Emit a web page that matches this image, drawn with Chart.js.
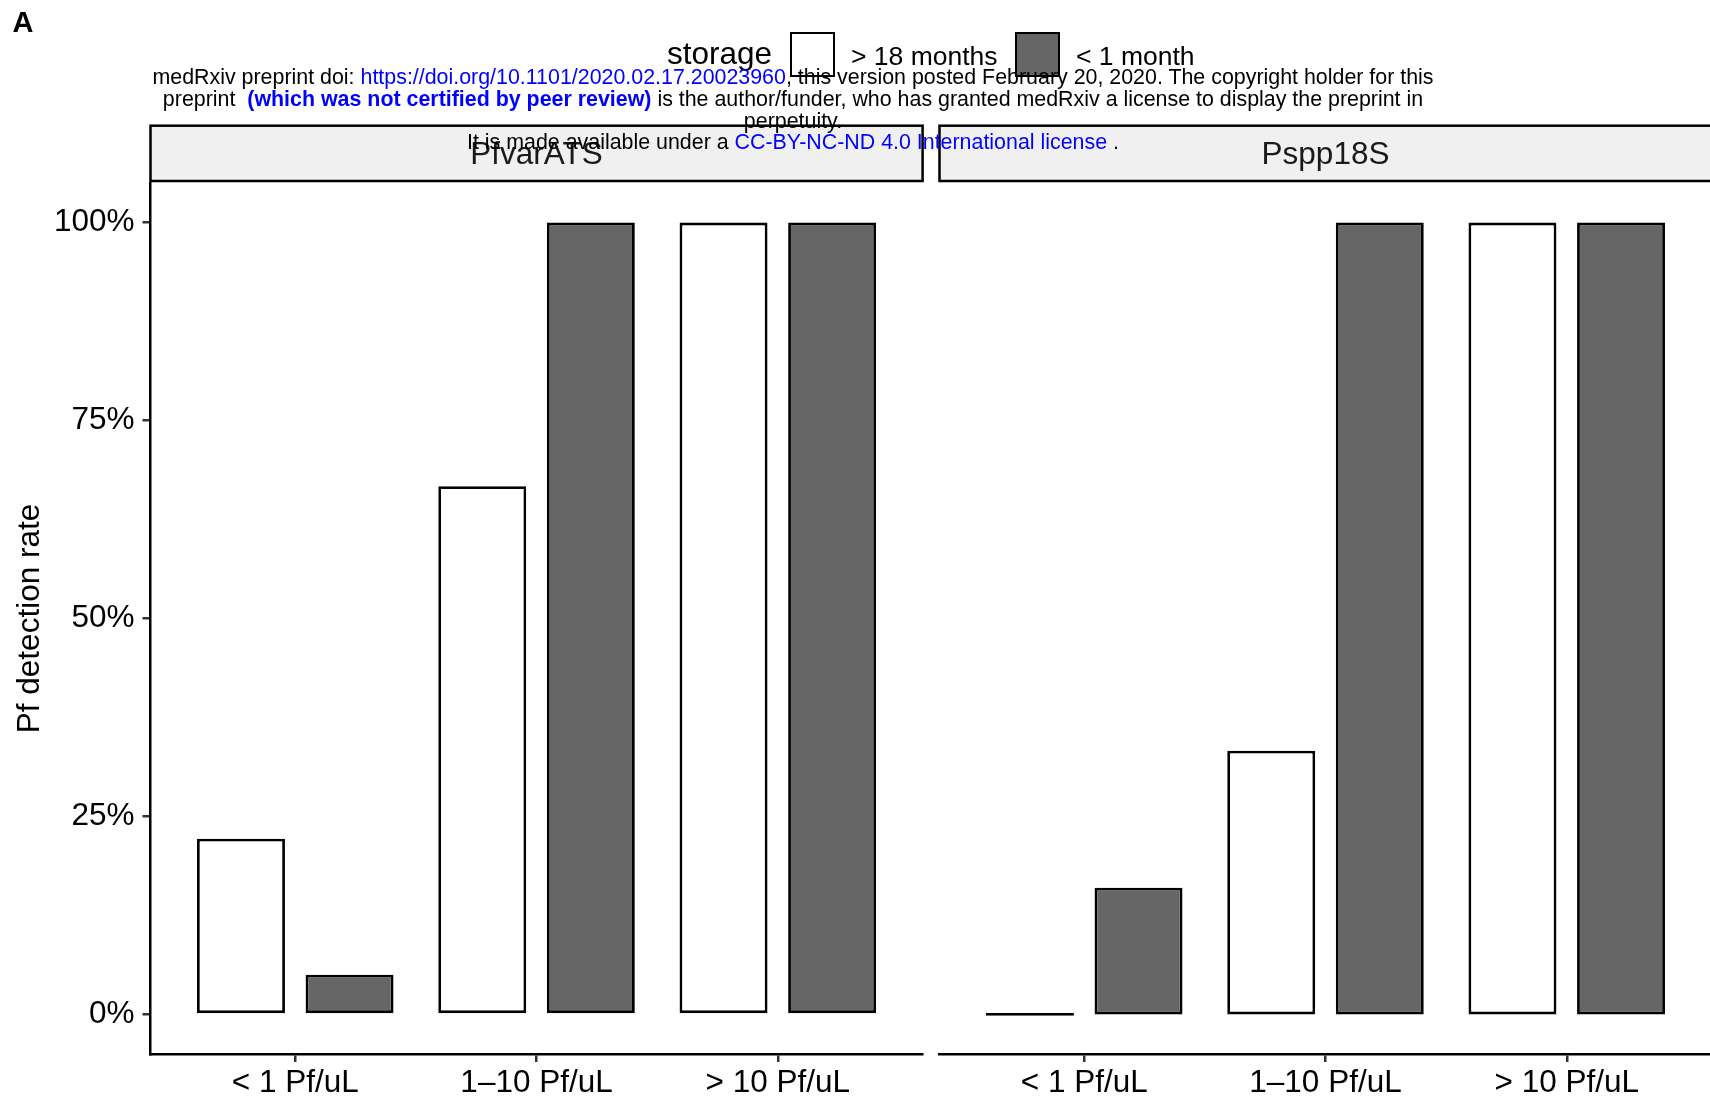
<!DOCTYPE html>
<html>
<head>
<meta charset="utf-8">
<script src="https://cdn.jsdelivr.net/npm/chart.js@4.4.1/dist/chart.umd.min.js"></script>
<style>
  html, body { margin: 0; padding: 0; width: 1710px; height: 1102px; overflow: hidden; background: #fff; }
  body { position: relative; font-family: "Liberation Sans", Arial, Helvetica, sans-serif; }
  canvas { position: absolute; top: 0; }
  #panel1 { left: 0; }
  #panel2 { left: 930px; }
  .txt { position: absolute; white-space: pre; line-height: 1; color: #000; }
  .key { position: absolute; box-sizing: border-box; border: 2.5px solid #000; }
  .wm { position: absolute; white-space: pre; line-height: 1; font-size: 21.3px; color: #000; transform: translateX(-50%); z-index: 5; }
  .blue { color: #0000ff; }
  .bold { font-weight: bold; }
</style>
</head>
<body>
<canvas id="panel1" width="930" height="1102"></canvas>
<canvas id="panel2" width="790" height="1102"></canvas>
<div id="overlay"></div>
<script>
const categories = ['< 1 Pf/uL', '1–10 Pf/uL', '> 10 Pf/uL'];
const storageGroups = ['> 18 months', '< 1 month'];
const storageFills = ['#ffffff', '#666666'];
const panelNames = ['PfvarATS', 'Pspp18S'];
const pfvarLong = [22.2, 66.7, 100];
const pfvarShort = [5, 100, 100];
const psppLong = [0, 33.3, 100];
const psppShort = [16, 100, 100];
const yTicks = [0, 25, 50, 75, 100];

const FONT = '"Liberation Sans", Arial, Helvetica, sans-serif';

// facet strip drawn above the chart area
const stripPlugin = {
  id: 'strip',
  afterDraw(chart, args, opts) {
    const { ctx, chartArea } = chart;
    const bottom = chartArea.top - 2;
    const top = 125.7;
    const h = bottom - top;
    ctx.save();
    ctx.fillStyle = '#f0f0f0';
    ctx.fillRect(chartArea.left, top, chartArea.right - chartArea.left, h);
    ctx.strokeStyle = '#000';
    ctx.lineWidth = 2.5;
    ctx.strokeRect(chartArea.left, top, chartArea.right - chartArea.left, h);
    ctx.fillStyle = '#1a1a1a';
    ctx.font = '31.5px ' + FONT;
    ctx.textAlign = 'center';
    ctx.textBaseline = 'middle';
    ctx.fillText(opts.text, (chartArea.left + chartArea.right) / 2, top + h / 2 + 2);
    ctx.restore();
  }
};

function makePanel(id, name, longVals, shortVals, showY, padLeft, padRight) {
  const vals = [longVals, shortVals];
  return new Chart(document.getElementById(id), {
    type: 'bar',
    data: {
      labels: categories,
      datasets: storageGroups.map((g, i) => ({
        label: g,
        data: vals[i],
        backgroundColor: storageFills[i],
        borderColor: '#000',
        borderWidth: 2.8,
        borderSkipped: false,
        minBarLength: 2.8,
        barPercentage: 0.81,
        categoryPercentage: 0.9
      }))
    },
    options: {
      responsive: false,
      animation: false,
      layout: { padding: { top: 183, left: padLeft, right: padRight, bottom: 0 } },
      scales: {
        x: {
          type: 'category',
          offset: true,
          // ggplot style discrete expansion: 0.6 of a step on each side
          afterBuildTicks: s => { s._startValue = -0.6; s._valueRange = categories.length + 0.2; },
          afterFit: s => { s.height = 48; },
          grid: { offset: false, drawOnChartArea: false, tickLength: 8, color: '#333', lineWidth: 2.5 },
          border: { color: '#000', width: 2.5 },
          ticks: { color: '#000', font: { family: FONT, size: 31.5 }, padding: 2, maxRotation: 0, autoSkip: false }
        },
        y: {
          display: showY,
          min: -5,
          max: 105,
          afterBuildTicks: s => { s.ticks = yTicks.map(v => ({ value: v })); },
          afterFit: s => { s.width = showY ? 150.5 : 0; },
          grid: { drawOnChartArea: false, tickLength: 8, color: '#333', lineWidth: 2.5 },
          border: { color: '#000', width: 2.5 },
          ticks: { color: '#000', font: { family: FONT, size: 31.5 }, padding: 8, autoSkip: false, callback: v => v + '%' },
          title: { display: true, text: 'Pf detection rate', color: '#000', font: { family: FONT, size: 31.5 }, padding: { top: 11, bottom: 0 } }
        }
      },
      plugins: {
        legend: { display: false },
        tooltip: { enabled: false },
        strip: { text: name }
      }
    },
    plugins: [stripPlugin]
  });
}

makePanel('panel1', panelNames[0], pfvarLong, pfvarShort, true, 0, 7.4);
makePanel('panel2', panelNames[1], psppLong, psppShort, false, 9.5, 8.5);

// text placed by baseline (line-height 1, Liberation Sans metrics)
const overlay = document.getElementById('overlay');
function addText(html, left, baseline, size, cls, extra) {
  const d = document.createElement('div');
  d.className = cls || 'txt';
  d.innerHTML = html;
  d.style.left = left + 'px';
  d.style.top = (baseline - 0.8465 * size) + 'px';
  d.style.fontSize = size + 'px';
  if (extra) Object.assign(d.style, extra);
  overlay.appendChild(d);
  return d;
}

addText('A', 12.5, 33, 29, 'txt', { fontWeight: 'bold' });

// legend
addText('storage', 667, 65, 31.5);
const keyLeft = [790, 1015];
const labelLeft = [851, 1076];
storageGroups.forEach((g, i) => {
  const k = document.createElement('div');
  k.className = 'key';
  Object.assign(k.style, { left: keyLeft[i] + 'px', top: '32px', width: '45px', height: '45px', background: storageFills[i] });
  overlay.appendChild(k);
  addText(g.replace('<', '&lt;').replace('>', '&gt;'), labelLeft[i], 65, 26.5);
});

// medRxiv watermark
const wmLines = [
  'medRxiv preprint doi: <span class="blue">https://doi.org/10.1101/2020.02.17.20023960</span>, this version posted February 20, 2020. The copyright holder for this',
  'preprint  <span class="blue bold">(which was not certified by peer review)</span> is the author/funder, who has granted medRxiv a license to display the preprint in',
  'perpetuity.',
  'It is made available under a <span class="blue">CC-BY-NC-ND 4.0 International license</span> .'
];
wmLines.forEach((t, i) => addText(t, 793, 85.5 + i * 21.7, 21.4, 'wm'));
</script>
</body>
</html>
